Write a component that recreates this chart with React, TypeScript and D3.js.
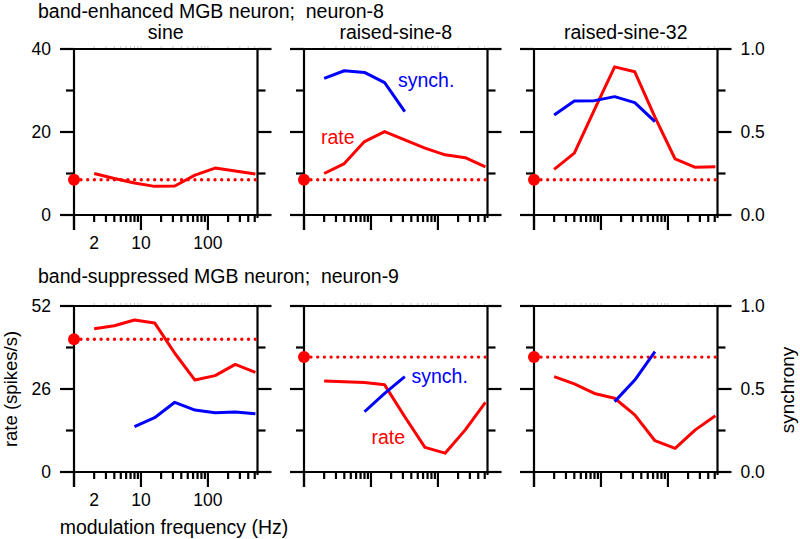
import React from "react";
import * as d3 from "d3";

const freqs = [2, 4, 8, 16, 32, 64, 128, 256, 512];

const topTitle = "band-enhanced MGB neuron;  neuron-8";
const bottomTitle = "band-suppressed MGB neuron;  neuron-9";
const panelTitles = ["sine", "raised-sine-8", "raised-sine-32"];

const topRateSine = [10.0, 8.8, 7.7, 6.9, 7.0, 9.6, 11.3, 10.6, 9.9];
const topRateRs8 = [10.0, 12.4, 17.7, 20.1, 18.1, 16.1, 14.5, 13.8, 11.6];
const topRateRs32 = [11.0, 14.9, 25.4, 35.7, 34.5, 23.6, 13.5, 11.5, 11.6];
const topSyncRs8Freqs = [2, 4, 8, 16, 32];
const topSyncRs8 = [0.823, 0.869, 0.859, 0.797, 0.623];
const topSyncRs32Freqs = [2, 4, 8, 16, 32, 64];
const topSyncRs32 = [0.602, 0.687, 0.689, 0.713, 0.677, 0.562];
const topSpont = [8.5, 8.5, 8.5];

const botRateSine = [44.9, 45.8, 47.6, 46.7, 37.2, 28.8, 30.2, 33.7, 31.2];
const botRateRs8 = [28.5, 28.3, 28.0, 27.3, 17.3, 7.7, 5.9, 13.2, 21.8];
const botRateRs32 = [29.9, 27.6, 24.6, 23.1, 17.9, 9.8, 7.4, 13.2, 17.6];
const botSyncSineFreqs = [8, 16, 32, 64, 128, 256, 512];
const botSyncSine = [0.273, 0.327, 0.42, 0.373, 0.357, 0.361, 0.351];
const botSyncRs8Freqs = [8, 16, 32];
const botSyncRs8 = [0.363, 0.474, 0.574];
const botSyncRs32Freqs = [16, 32, 64];
const botSyncRs32 = [0.424, 0.554, 0.725];
const botSpont = [41.6, 36.0, 36.0];

const topRateTicks = [0, 10, 20, 30, 40];
const topRateLabels = [0, 20, 40];
const botRateTicks = [0, 13, 26, 39, 52];
const botRateLabels = [0, 26, 52];
const syncTicks = [0, 0.25, 0.5, 0.75, 1.0];
const syncLabels = [0, 0.5, 1.0];
const xTickLabels = [2, 10, 100];

const RED = "#ff0000";
const BLUE = "#0000ff";
const FONT = "'Liberation Sans', Arial, sans-serif";

const panelLefts = [74, 304, 534];
const panelWidth = 183.5;
const rows = [
  { top: 49, bottom: 215 },
  { top: 306, bottom: 472 },
];

const minorX: number[] = [];
[1, 10, 100].forEach((d) => {
  for (let k = 2; k <= 9; k++) {
    if (d * k <= 550) minorX.push(d * k);
  }
});
const majorX = [1, 10, 100];

type Series = { f: number[]; v: number[] };

interface PanelProps {
  left: number;
  row: { top: number; bottom: number };
  rateMax: number;
  rateTicks: number[];
  rateLabels: number[];
  showLeftLabels: boolean;
  showRightLabels: boolean;
  showXLabels: boolean;
  rate: Series;
  sync?: Series;
  spont: number;
}

function Panel(p: PanelProps) {
  const x = d3.scaleLog().domain([1, 550]).range([p.left, p.left + panelWidth]);
  const yR = d3.scaleLinear().domain([0, p.rateMax]).range([p.row.bottom, p.row.top]);
  const yS = d3.scaleLinear().domain([0, 1]).range([p.row.bottom, p.row.top]);
  const right = p.left + panelWidth;
  const lineR = d3
    .line<number>()
    .x((_, i) => x(p.rate.f[i]))
    .y((d) => yR(d));
  const lineS = d3
    .line<number>()
    .x((_, i) => x(p.sync!.f[i]))
    .y((d) => yS(d));
  const ax = { stroke: "#000", strokeWidth: 2.2, fill: "none" };
  return (
    <g>
      <line x1={p.left} x2={right} y1={p.row.top} y2={p.row.top} {...ax} />
      <line x1={p.left} x2={right} y1={p.row.bottom} y2={p.row.bottom} {...ax} />
      <line x1={p.left} x2={p.left} y1={p.row.top - 1} y2={p.row.bottom + 15} {...ax} />
      <line x1={right} x2={right} y1={p.row.top - 1} y2={p.row.bottom + 3} {...ax} />
      {p.rateTicks.map((t) => {
        const major = p.rateLabels.includes(t);
        return (
          <line
            key={"lt" + t}
            x1={p.left - (major ? 14 : 8)}
            x2={p.left}
            y1={yR(t)}
            y2={yR(t)}
            {...ax}
          />
        );
      })}
      {syncTicks.map((t) => {
        const major = syncLabels.includes(t);
        return (
          <line
            key={"rt" + t}
            x1={right}
            x2={right + (major ? 14 : 8)}
            y1={yS(t)}
            y2={yS(t)}
            {...ax}
          />
        );
      })}
      {majorX.map((t) => (
        <line key={"mx" + t} x1={x(t)} x2={x(t)} y1={p.row.bottom} y2={p.row.bottom + 15} {...ax} />
      ))}
      {minorX.map((t) => (
        <line key={"nx" + t} x1={x(t)} x2={x(t)} y1={p.row.bottom} y2={p.row.bottom + 7} {...ax} />
      ))}
      {minorX.concat(majorX.slice(1)).map((t) => (
        <line
          key={"tx" + t}
          x1={x(t)}
          x2={x(t)}
          y1={p.row.top - 1}
          y2={p.row.top - 3}
          stroke="#c8c8c8"
          strokeWidth={1}
        />
      ))}
      {p.showLeftLabels &&
        p.rateLabels.map((t) => (
          <text
            key={"ll" + t}
            x={p.left - 23}
            y={yR(t)}
            textAnchor="end"
            dominantBaseline="central"
            fontSize={17.5}
            fontFamily={FONT}
          >
            {t}
          </text>
        ))}
      {p.showRightLabels &&
        syncLabels.map((t) => (
          <text
            key={"rl" + t}
            x={right + 23}
            y={yS(t)}
            textAnchor="start"
            dominantBaseline="central"
            fontSize={17.5}
            fontFamily={FONT}
          >
            {d3.format(".1f")(t)}
          </text>
        ))}
      {p.showXLabels &&
        xTickLabels.map((t) => (
          <text
            key={"xl" + t}
            x={x(t)}
            y={p.row.bottom + 34}
            textAnchor="middle"
            fontSize={17.5}
            fontFamily={FONT}
          >
            {t}
          </text>
        ))}
      <line
        x1={p.left + 7}
        x2={x(512)}
        y1={yR(p.spont)}
        y2={yR(p.spont)}
        stroke={RED}
        strokeWidth={3.4}
        strokeLinecap="round"
        strokeDasharray="0 6.7"
      />
      <circle cx={p.left} cy={yR(p.spont)} r={6} fill={RED} />
      <path d={lineR(p.rate.v) || ""} stroke={RED} strokeWidth={3} fill="none" strokeLinejoin="round" />
      {p.sync && (
        <path d={lineS(p.sync.v) || ""} stroke={BLUE} strokeWidth={3} fill="none" strokeLinejoin="round" />
      )}
    </g>
  );
}

export default function App() {
  const topRates = [topRateSine, topRateRs8, topRateRs32];
  const botRates = [botRateSine, botRateRs8, botRateRs32];
  const topSyncs: (Series | undefined)[] = [
    undefined,
    { f: topSyncRs8Freqs, v: topSyncRs8 },
    { f: topSyncRs32Freqs, v: topSyncRs32 },
  ];
  const botSyncs: (Series | undefined)[] = [
    { f: botSyncSineFreqs, v: botSyncSine },
    { f: botSyncRs8Freqs, v: botSyncRs8 },
    { f: botSyncRs32Freqs, v: botSyncRs32 },
  ];
  return (
    <svg
      width={800}
      height={539}
      style={{ position: "absolute", left: 0, top: 0, background: "#fff" }}
      fontFamily={FONT}
    >
      <text x={38} y={17.5} fontSize={19.5} fontFamily={FONT}>
        {topTitle.replace(/ /g, "\u00a0")}
      </text>
      <text x={38} y={283} fontSize={19.5} fontFamily={FONT}>
        {bottomTitle.replace(/ /g, "\u00a0")}
      </text>
      {panelTitles.map((t, i) => (
        <text key={t} x={panelLefts[i] + panelWidth / 2} y={38.5} textAnchor="middle" fontSize={19.5} fontFamily={FONT}>
          {t}
        </text>
      ))}
      {panelLefts.map((l, i) => (
        <Panel
          key={"top" + i}
          left={l}
          row={rows[0]}
          rateMax={40}
          rateTicks={topRateTicks}
          rateLabels={topRateLabels}
          showLeftLabels={i === 0}
          showRightLabels={i === 2}
          showXLabels={i === 0}
          rate={{ f: freqs, v: topRates[i] }}
          sync={topSyncs[i]}
          spont={topSpont[i]}
        />
      ))}
      {panelLefts.map((l, i) => (
        <Panel
          key={"bot" + i}
          left={l}
          row={rows[1]}
          rateMax={52}
          rateTicks={botRateTicks}
          rateLabels={botRateLabels}
          showLeftLabels={i === 0}
          showRightLabels={i === 2}
          showXLabels={i === 0}
          rate={{ f: freqs, v: botRates[i] }}
          sync={botSyncs[i]}
          spont={botSpont[i]}
        />
      ))}
      <text x={398} y={87} fill={BLUE} fontSize={19.5} fontFamily={FONT}>synch.</text>
      <text x={321} y={144} fill={RED} fontSize={19.5} fontFamily={FONT}>rate</text>
      <text x={411.5} y={382.5} fill={BLUE} fontSize={19.5} fontFamily={FONT}>synch.</text>
      <text x={371.5} y={444} fill={RED} fontSize={19.5} fontFamily={FONT}>rate</text>
      <text
        transform="translate(17,389) rotate(-90)"
        textAnchor="middle"
        fontSize={18.5}
        fontFamily={FONT}
      >
        rate (spikes/s)
      </text>
      <text
        transform="translate(794,390) rotate(-90)"
        textAnchor="middle"
        fontSize={19}
        fontFamily={FONT}
      >
        synchrony
      </text>
      <text x={174} y={534} textAnchor="middle" fontSize={19.5} fontFamily={FONT}>
        modulation frequency (Hz)
      </text>
    </svg>
  );
}
